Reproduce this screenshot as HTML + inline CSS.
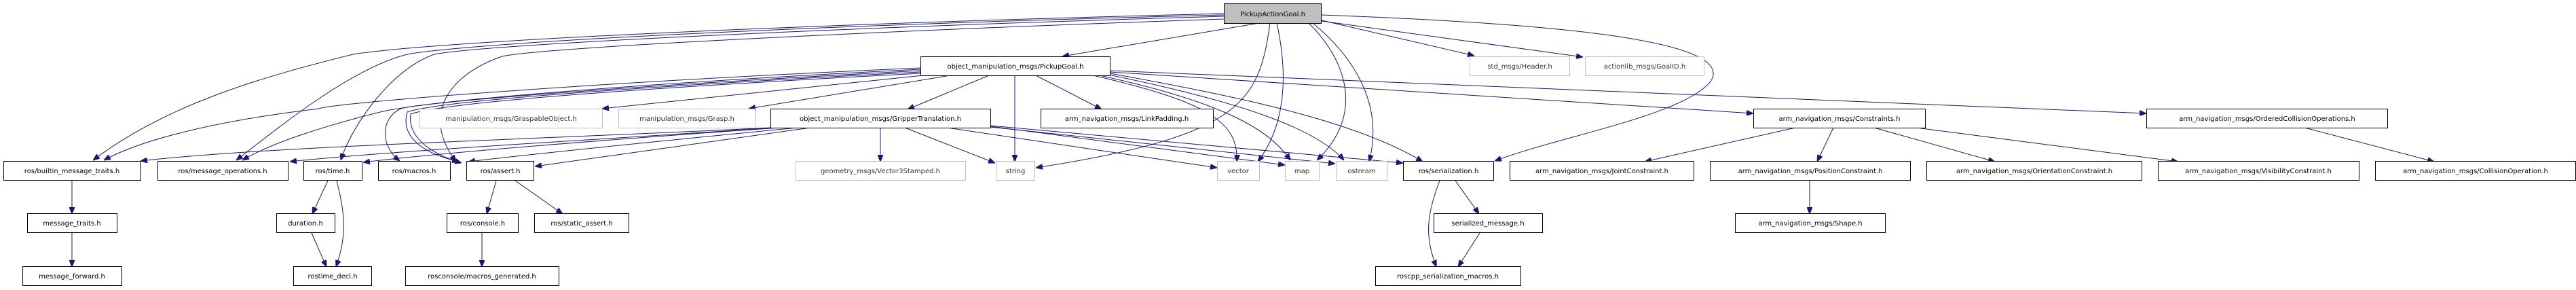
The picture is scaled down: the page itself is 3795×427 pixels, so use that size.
<!DOCTYPE html>
<html><head><meta charset="utf-8"><style>
html,body{margin:0;padding:0;background:#fff;}
svg{display:block;}
text{font-family:"DejaVu Sans","Liberation Sans",sans-serif;font-size:10px;fill:#000;text-anchor:middle;}
.b{fill:#fff;stroke:#000;stroke-width:1;}
.g{fill:#fff;stroke:#bfbfbf;stroke-width:1;}
.gt{fill:#333;}
.e{fill:none;stroke:#191970;stroke-width:1;}
</style></head><body>
<svg width="3795" height="427" viewBox="0 0 3795 427" xmlns="http://www.w3.org/2000/svg">
<defs><marker id="a" markerUnits="userSpaceOnUse" markerWidth="10" markerHeight="8" refX="10" refY="4" orient="auto"><path d="M0,0 L10,4 L0,8 z" fill="#191970" stroke="#191970"/></marker></defs>
<g class="e" marker-end="url(#a)">
<!-- PickupActionGoal edges -->
<path d="M1855,34 L1565,83"/>
<path d="M1871,34 C1855,150 1830,200 1526,247"/>
<path d="M1881,34 C1900,120 1890,190 1853,238"/>
<path d="M1928,34 C1985,90 2010,170 1940,236"/>
<path d="M1934,34 C1990,80 2040,150 2017,238"/>
<path d="M1947,30 L2172,82"/>
<path d="M1947,31 L2332,84"/>
<path d="M1947,22 C2300,35 2560,60 2520,120 C2480,170 2300,200 2202,237"/>
<path d="M1803,20 C1200,35 650,60 520,80 C400,110 250,150 137,236"/>
<path d="M1803,22 C1200,37 700,62 600,80 C520,100 420,180 348,236"/>
<path d="M1803,24 C1250,40 720,65 640,80 C580,100 520,180 502,236"/>
<path d="M1803,28 C1300,45 800,70 740,83 C660,110 620,170 672,238"/>
<!-- PickupGoal edges -->
<path d="M1356,100 C900,120 500,150 470,160 C300,180 200,210 153,236"/>
<path d="M1356,102 C900,125 620,150 560,165 C480,185 400,210 357,236"/>
<path d="M1356,104 C900,128 630,150 590,160 C560,175 560,215 589,237"/>
<path d="M1356,106 C900,130 640,150 600,165 C590,200 620,225 676,238"/>
<path d="M1356,108 C900,132 650,152 605,168 C600,205 640,228 680,240"/>
<path d="M1360,111 L887,160"/>
<path d="M1400,111 L1103,160"/>
<path d="M1457,111 L1337,161"/>
<path d="M1495,111 L1495,238"/>
<path d="M1526,111 L1623,161"/>
<path d="M1610,111 C1780,150 1825,180 1822,238"/>
<path d="M1620,111 C1800,150 1870,190 1901,236"/>
<path d="M1628,109 C1830,150 1940,190 1980,236"/>
<path d="M1635,108 C1840,145 2000,180 2096,238"/>
<path d="M1635,106 L2583,167"/>
<path d="M1635,104 L3162,167"/>
<!-- GripperTranslation edges -->
<path d="M1136,188 C800,205 400,215 207,237"/>
<path d="M1140,188 C900,205 600,220 427,238"/>
<path d="M1150,188 C900,205 650,225 535,239"/>
<path d="M1175,188 C1000,205 800,225 690,238"/>
<path d="M1194,188 L788,245"/>
<path d="M1297,188 L1297,238"/>
<path d="M1333,188 L1466,240"/>
<path d="M1395,188 L1793,247"/>
<path d="M1459,186 L1893,243"/>
<path d="M1459,187 L1967,241"/>
<path d="M1459,185 L2067,240"/>
<!-- Constraints -->
<path d="M2645,188 L2423,238"/>
<path d="M2701,188 L2677,238"/>
<path d="M2761,188 L2939,238"/>
<path d="M2823,188 L3209,238"/>
<path d="M3395,188 L3586,238"/>
<path d="M2666,266 L2666,315"/>
<!-- lower rows -->
<path d="M106,266 L106,315"/>
<path d="M106,343 L106,393"/>
<path d="M483,266 L460,315"/>
<path d="M496,266 C510,320 510,350 495,393"/>
<path d="M459,343 L481,393"/>
<path d="M731,266 L717,315"/>
<path d="M759,266 L829,315"/>
<path d="M710,343 L710,393"/>
<path d="M2144,266 L2179,315"/>
<path d="M2121,266 C2100,320 2100,350 2116,393"/>
<path d="M2180,343 L2148,393"/>
</g>
<!-- nodes -->
<rect x="1803.5" y="5.5" width="143" height="29" fill="#bfbfbf" stroke="#000"/><text x="1875" y="24">PickupActionGoal.h</text>
<rect class="b" x="1356.5" y="83.5" width="279" height="28"/><text x="1496" y="101">object_manipulation_msgs/PickupGoal.h</text>
<rect class="g" x="2165.5" y="83.5" width="147" height="28"/><text class="gt" x="2239" y="101">std_msgs/Header.h</text>
<rect class="g" x="2335.5" y="83.5" width="175" height="28"/><text class="gt" x="2423" y="101">actionlib_msgs/GoalID.h</text>

<rect class="g" x="618.5" y="160.5" width="269" height="28"/><text class="gt" x="753" y="178">manipulation_msgs/GraspableObject.h</text>
<rect class="g" x="911.5" y="160.5" width="201" height="28"/><text class="gt" x="1012" y="178">manipulation_msgs/Grasp.h</text>
<rect class="b" x="1135.5" y="160.5" width="324" height="28"/><text x="1297" y="178">object_manipulation_msgs/GripperTranslation.h</text>
<rect class="b" x="1533.5" y="160.5" width="254" height="28"/><text x="1660" y="178">arm_navigation_msgs/LinkPadding.h</text>
<rect class="b" x="2583.5" y="160.5" width="253" height="28"/><text x="2710" y="178">arm_navigation_msgs/Constraints.h</text>
<rect class="b" x="3162.5" y="160.5" width="355" height="28"/><text x="3340" y="178">arm_navigation_msgs/OrderedCollisionOperations.h</text>

<rect class="b" x="5.5" y="237.5" width="202" height="28"/><text x="106" y="255">ros/builtin_message_traits.h</text>
<rect class="b" x="232.5" y="237.5" width="192" height="28"/><text x="328" y="255">ros/message_operations.h</text>
<rect class="b" x="447.5" y="237.5" width="86" height="28"/><text x="490" y="255">ros/time.h</text>
<rect class="b" x="557.5" y="237.5" width="106" height="28"/><text x="610" y="255">ros/macros.h</text>
<rect class="b" x="687.5" y="237.5" width="99" height="28"/><text x="737" y="255">ros/assert.h</text>
<rect class="g" x="1172.5" y="237.5" width="250" height="28"/><text class="gt" x="1297" y="255">geometry_msgs/Vector3Stamped.h</text>
<rect class="g" x="1467.5" y="237.5" width="57" height="28"/><text class="gt" x="1496" y="255">string</text>
<rect class="g" x="1793.5" y="237.5" width="62" height="28"/><text class="gt" x="1824" y="255">vector</text>
<rect class="g" x="1893.5" y="237.5" width="50" height="28"/><text class="gt" x="1918" y="255">map</text>
<rect class="g" x="1968.5" y="237.5" width="75" height="28"/><text class="gt" x="2006" y="255">ostream</text>
<rect class="b" x="2067.5" y="237.5" width="133" height="28"/><text x="2134" y="255">ros/serialization.h</text>
<rect class="b" x="2224.5" y="237.5" width="271" height="28"/><text x="2360" y="255">arm_navigation_msgs/JointConstraint.h</text>
<rect class="b" x="2519.5" y="237.5" width="295" height="28"/><text x="2667" y="255">arm_navigation_msgs/PositionConstraint.h</text>
<rect class="b" x="2838.5" y="237.5" width="317" height="28"/><text x="2997" y="255">arm_navigation_msgs/OrientationConstraint.h</text>
<rect class="b" x="3179.5" y="237.5" width="296" height="28"/><text x="3327" y="255">arm_navigation_msgs/VisibilityConstraint.h</text>
<rect class="b" x="3499.5" y="237.5" width="295" height="28"/><text x="3647" y="255">arm_navigation_msgs/CollisionOperation.h</text>

<rect class="b" x="40.5" y="314.5" width="132" height="28"/><text x="106" y="332">message_traits.h</text>
<rect class="b" x="407.5" y="314.5" width="86" height="28"/><text x="450" y="332">duration.h</text>
<rect class="b" x="658.5" y="314.5" width="105" height="28"/><text x="711" y="332">ros/console.h</text>
<rect class="b" x="787.5" y="314.5" width="139" height="28"/><text x="857" y="332">ros/static_assert.h</text>
<rect class="b" x="2112.5" y="314.5" width="160" height="28"/><text x="2192" y="332">serialized_message.h</text>
<rect class="b" x="2556.5" y="314.5" width="221" height="28"/><text x="2667" y="332">arm_navigation_msgs/Shape.h</text>

<rect class="b" x="33.5" y="392.5" width="146" height="28"/><text x="106" y="410">message_forward.h</text>
<rect class="b" x="432.5" y="392.5" width="115" height="28"/><text x="490" y="410">rostime_decl.h</text>
<rect class="b" x="597.5" y="392.5" width="226" height="28"/><text x="710" y="410">rosconsole/macros_generated.h</text>
<rect class="b" x="2026.5" y="392.5" width="214" height="28"/><text x="2133" y="410">roscpp_serialization_macros.h</text>
</svg>
</body></html>
